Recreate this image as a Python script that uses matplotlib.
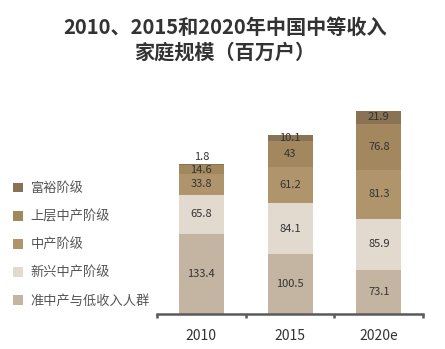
import numpy as np
import matplotlib.pyplot as plt
from matplotlib.patches import Patch

plt.rcParams['font.family'] = ['Noto Sans CJK SC', 'DejaVu Sans']

years = ['2010', '2015', '2020e']
# 从下往上堆叠
groups = ['准中产与低收入人群', '新兴中产阶级', '中产阶级', '上层中产阶级', '富裕阶级']
low_income = [133.4, 100.5, 73.1]
emerging = [65.8, 84.1, 85.9]
middle = [33.8, 61.2, 81.3]
upper_middle = [14.6, 43, 76.8]
affluent = [1.8, 10.1, 21.9]

series = [low_income, emerging, middle, upper_middle, affluent]
colors = ['#c4b4a2', '#e2d9cf', '#b0956c', '#a3875f', '#8a7254']

fig = plt.figure(figsize=(4.45, 3.49), dpi=100)
ax = fig.add_axes([0.353, 0.100, 0.598, 0.602])

x = np.arange(len(years))
bottom = np.zeros(len(years))
for vals, col in zip(series, colors):
    vals = np.array(vals, dtype=float)
    ax.bar(x, vals, width=0.51, bottom=bottom, color=col, edgecolor='none')
    for i, v in enumerate(vals):
        if v < 5:
            # 太小的段把数字放在柱顶上方
            ax.text(x[i], bottom[i] + v + 12, f'{v:g}', ha='center', va='center',
                    fontsize=8, color='#333333')
        else:
            ax.text(x[i], bottom[i] + v / 2, f'{v:g}', ha='center', va='center',
                    fontsize=8, color='#333333')
    bottom += vals

ax.set_xlim(-0.5, 2.5)
ax.set_ylim(0, 350)
ax.set_yticks([])
for s in ['top', 'right', 'left']:
    ax.spines[s].set_visible(False)
ax.spines['bottom'].set_color('#5a5a5a')
ax.spines['bottom'].set_linewidth(1.8)
ax.set_xticks([-0.5, 0.5, 1.5, 2.5])
ax.set_xticklabels([])
ax.set_xticks(x, minor=True)
ax.set_xticklabels(years, minor=True, fontsize=10, color='#333333')
ax.tick_params(axis='x', which='major', direction='out', length=3, width=1.8, color='#5a5a5a')
ax.tick_params(axis='x', which='minor', length=0, pad=11)

fig.text(0.505, 0.885, '2010、2015和2020年中国中等收入\n家庭规模（百万户）',
         ha='center', va='center', fontsize=14.5, fontweight='bold',
         color='#333333', linespacing=1.2)

handles = [Patch(facecolor=c, edgecolor='none') for c in colors[::-1]]
fig.legend(handles, groups[::-1], loc='upper left', bbox_to_anchor=(0.029, 0.478),
           frameon=False, fontsize=9.5, labelcolor='#555555',
           handlelength=0.75, handleheight=0.75, handletextpad=0.6,
           labelspacing=1.13, borderpad=0, borderaxespad=0)

fig.savefig('out.png', dpi=100)
